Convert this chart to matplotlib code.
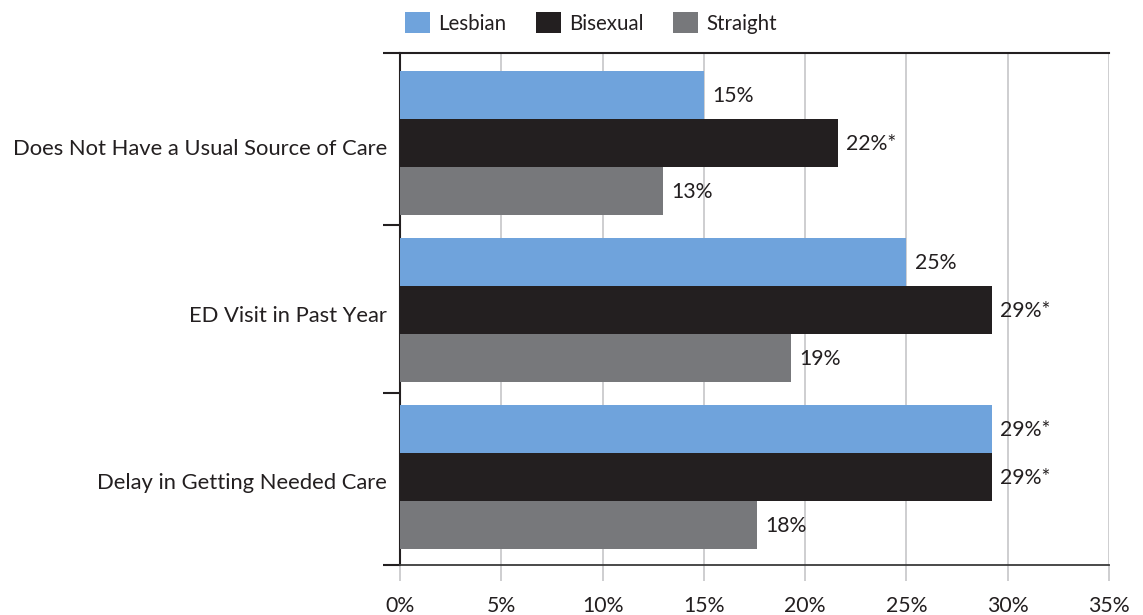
import matplotlib
matplotlib.use("Agg")
import matplotlib.pyplot as plt
from matplotlib.patches import Patch
from matplotlib.transforms import ScaledTranslation
import numpy as np

plt.rcParams['font.family'] = ['Lato', 'DejaVu Sans']

categories = ["Does Not Have a Usual Source of Care", "ED Visit in Past Year", "Delay in Getting Needed Care"]
series_names = ["Lesbian", "Bisexual", "Straight"]
lesbian = [15.0, 25.0, 29.2]
bisexual = [21.6, 29.2, 29.2]
straight = [13.0, 19.3, 17.6]
lesbian_labels = ["15%", "25%", "29%*"]
bisexual_labels = ["22%*", "29%*", "29%*"]
straight_labels = ["13%", "19%", "18%"]
xticks = [0, 5, 10, 15, 20, 25, 30, 35]
xtick_labels = ["0%", "5%", "10%", "15%", "20%", "25%", "30%", "35%"]

colors = ["#6fa3dc", "#231f20", "#77787b"]
grid_color = "#c6c6c8"
text_color = "#231f20"
fs = 15.3

fig = plt.figure(figsize=(11.43, 6.15), dpi=100)
ax = fig.add_axes([400/1143, 1-565/615, (1109-400)/1143, (565-53)/615])

y = np.arange(len(categories))
h = 0.287
series = [lesbian, bisexual, straight]
labels = [lesbian_labels, bisexual_labels, straight_labels]
for i, (vals, labs) in enumerate(zip(series, labels)):
    pos = y + (i - 1) * h
    ax.barh(pos, vals, height=h, color=colors[i], zorder=3, linewidth=0)
    for p, v, l in zip(pos, vals, labs):
        ax.annotate(l, (v, p), xytext=(6, -1), textcoords="offset points",
                    va="center", ha="left", fontsize=fs, color=text_color, zorder=4)

ax.set_xlim(0, 35)
ax.set_ylim(2.527, -0.539)

ax.set_xticks(xticks)
ax.set_xticklabels(xtick_labels, fontsize=fs, color=text_color)
ax.tick_params(axis="x", length=11.5, width=1.2, color=grid_color, pad=10.5)
ax.xaxis.get_major_ticks()[0].tick1line.set_color("#231f20")
ax.xaxis.grid(True, color=grid_color, linewidth=1.2, zorder=0)

ax.set_yticks([-0.539, 0.49, 1.5, 2.527])
ax.set_yticklabels([])
ax.set_yticks(y, minor=True)
ax.set_yticklabels(categories, minor=True, fontsize=15.8, color=text_color)
ax.tick_params(axis="y", which="major", length=12.5, width=1.5, color="#231f20")
ax.tick_params(axis="y", which="minor", length=0, pad=9.5)
offset = ScaledTranslation(0, -4/100, fig.dpi_scale_trans)
for lbl in ax.get_yticklabels(minor=True):
    lbl.set_transform(lbl.get_transform() + offset)

for s in ["top", "left"]:
    ax.spines[s].set_color("#231f20")
    ax.spines[s].set_linewidth(1.5)
ax.spines["bottom"].set_color("#3a3a3a")
ax.spines["bottom"].set_linewidth(1.3)
ax.spines["right"].set_visible(False)
ax.set_axisbelow(True)

handles = [Patch(facecolor=c, edgecolor="none", label=n) for c, n in zip(colors, series_names)]
fig.legend(handles=handles, loc="center left", bbox_to_anchor=(397/1143, 1-23/615),
           ncol=3, frameon=False, fontsize=14.8, handlelength=1.2, handleheight=1.2,
           handletextpad=0.4, columnspacing=1.45, labelcolor=text_color, borderaxespad=0)

fig.savefig("out.png", dpi=100)
